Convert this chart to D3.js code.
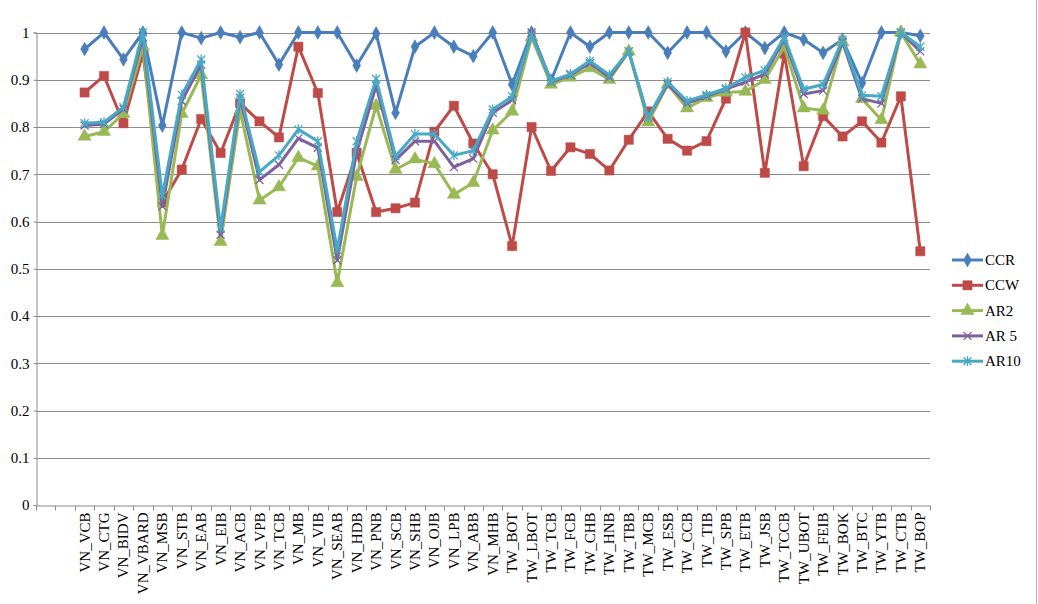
<!DOCTYPE html>
<html>
<head>
<meta charset="utf-8">
<script src="https://cdn.jsdelivr.net/npm/d3@7"></script>
<style>
  body { margin: 0; background: #fff; }
  svg text { font-family: "Liberation Serif", "Times New Roman", Times, "DejaVu Serif", serif; }
</style>
</head>
<body>
<div id="chart"></div>
<script>
// bank codes (two empty slots come before them on the axis)
var categories = ['VN_VCB','VN_CTG','VN_BIDV','VN_VBARD','VN_MSB','VN_STB','VN_EAB','VN_EIB','VN_ACB','VN_VPB',
  'VN_TCB','VN_MB','VN_VIB','VN_SEAB','VN_HDB','VN_PNB','VN_SCB','VN_SHB','VN_OJB','VN_LPB','VN_ABB','VN_MHB',
  'TW_BOT','TW_LBOT','TW_TCB','TW_FCB','TW_CHB','TW_HNB','TW_TBB','TW_MCB','TW_ESB','TW_CCB','TW_TIB','TW_SPB',
  'TW_ETB','TW_JSB','TW_TCCB','TW_UBOT','TW_FEIB','TW_BOK','TW_BTC','TW_YTB','TW_CTB','TW_BOP'];
var blanks = ['', ' '];

var ccr = [0.965,1.0,0.943,1.0,0.803,1.0,0.988,1.0,0.99,1.0,0.932,1.0,1.0,1.0,0.93,0.998,0.83,0.97,1.0,0.97,0.95,1.0,
  0.89,1.0,0.898,1.0,0.97,1.0,1.0,1.0,0.957,1.0,1.0,0.96,1.0,0.967,1.0,0.985,0.957,0.985,0.893,1.0,1.0,0.993];
var ccw = [0.873,0.908,0.808,0.956,0.64,0.71,0.817,0.745,0.85,0.812,0.778,0.97,0.872,0.62,0.745,0.62,0.628,0.64,0.79,0.845,0.765,0.70,
  0.548,0.80,0.707,0.757,0.743,0.708,0.773,0.833,0.775,0.75,0.77,0.86,1.0,0.703,0.955,0.717,0.823,0.78,0.812,0.767,0.865,0.537];
var ar2 = [0.78,0.79,0.828,0.97,0.57,0.828,0.91,0.557,0.835,0.645,0.673,0.735,0.717,0.47,0.695,0.845,0.71,0.732,0.722,0.657,0.682,0.793,
  0.833,0.99,0.89,0.905,0.925,0.90,0.96,0.81,0.89,0.84,0.862,0.873,0.875,0.90,0.97,0.84,0.835,0.98,0.86,0.815,1.0,0.933];
var ar5 = [0.803,0.806,0.838,0.99,0.632,0.855,0.932,0.572,0.862,0.688,0.72,0.776,0.756,0.518,0.747,0.887,0.73,0.77,0.77,0.715,0.733,0.83,
  0.857,1.0,0.895,0.91,0.935,0.905,0.96,0.82,0.89,0.85,0.865,0.88,0.895,0.912,0.985,0.87,0.877,0.98,0.86,0.85,1.0,0.96];
var ar10 = [0.808,0.81,0.842,1.0,0.655,0.868,0.943,0.585,0.87,0.705,0.74,0.795,0.77,0.54,0.77,0.902,0.738,0.785,0.785,0.74,0.75,0.837,
  0.865,0.995,0.897,0.912,0.94,0.91,0.96,0.82,0.895,0.855,0.868,0.882,0.905,0.92,0.99,0.88,0.89,0.985,0.867,0.865,1.0,0.97];

var seriesNames = ['CCR','CCW','AR2','AR 5','AR10'];
var yTicks = [0,0.1,0.2,0.3,0.4,0.5,0.6,0.7,0.8,0.9,1];

var series = [
  {name: seriesNames[0], values: ccr,  color: '#4a7ebb', marker: 'diamond'},
  {name: seriesNames[1], values: ccw,  color: '#be4b48', marker: 'square'},
  {name: seriesNames[2], values: ar2,  color: '#98b954', marker: 'triangle'},
  {name: seriesNames[3], values: ar5,  color: '#7d60a0', marker: 'x'},
  {name: seriesNames[4], values: ar10, color: '#46aac5', marker: 'star'}
];

var serif = '"Liberation Serif", "Times New Roman", Times, "DejaVu Serif", serif';

var W = 1038, H = 604;
var svg = d3.select('#chart').append('svg')
    .attr('width', W)
    .attr('height', H);

var x = d3.scaleBand()
    .domain(blanks.concat(categories))
    .range([36, 930]);
var y = d3.scaleLinear()
    .domain([0, 1])
    .range([505, 32.5]);

// right edge of the chart frame
svg.append('line')
    .attr('x1', 1036.5).attr('x2', 1036.5)
    .attr('y1', 0).attr('y2', H)
    .attr('stroke', '#b0b0b0').attr('stroke-width', 1);

// gridlines
svg.append('g').selectAll('line')
    .data(yTicks.slice(1))
    .enter().append('line')
      .attr('x1', 36).attr('x2', 930)
      .attr('y1', function(d) { return Math.round(y(d)) + 0.5; })
      .attr('y2', function(d) { return Math.round(y(d)) + 0.5; })
      .attr('stroke', '#8c8c8c')
      .attr('stroke-width', 1);

// y axis
var yAxis = d3.axisLeft(y)
    .tickValues(yTicks)
    .tickSize(3)
    .tickPadding(4)
    .tickFormat(d3.format('~g'));
var gy = svg.append('g')
    .attr('transform', 'translate(36.5,0)')
    .call(yAxis)
    .attr('font-family', null);
gy.selectAll('line').attr('stroke', '#8c8c8c');
gy.select('.domain').attr('stroke', '#8c8c8c');
gy.selectAll('text')
    .style('font-family', serif)
    .style('font-size', '15px')
    .attr('fill', '#000');

// x axis: labels centred on bands, ticks on band edges
var xAxis = d3.axisBottom(x).tickSize(0).tickPadding(0);
var gx = svg.append('g')
    .attr('transform', 'translate(0,505.5)')
    .call(xAxis)
    .attr('font-family', null);
gx.select('.domain').attr('stroke', '#8c8c8c');
gx.selectAll('.tick text')
    .style('font-family', serif)
    .style('font-size', '15px')
    .attr('fill', '#000')
    .attr('text-anchor', 'end')
    .attr('dy', null)
    .attr('transform', 'translate(5,7) rotate(-90)');

var edges = x.domain().map(function(d) { return x(d); }).concat([x.range()[1]]);
gx.selectAll('.edge')
    .data(edges)
    .enter().append('line')
      .attr('class', 'edge')
      .attr('x1', function(d) { return Math.round(d) + 0.5; })
      .attr('x2', function(d) { return Math.round(d) + 0.5; })
      .attr('y1', 0).attr('y2', 5)
      .attr('stroke', '#8c8c8c');

function cx(i) { return x(categories[i]) + x.bandwidth() / 2; }

function markerPath(type) {
    if (type == 'diamond') return d3.symbol().type(d3.symbolDiamond).size(55)();
    if (type == 'square') return d3.symbol().type(d3.symbolSquare).size(85)();
    if (type == 'triangle') return d3.symbol().type(d3.symbolTriangle).size(75)();
    if (type == 'x') return 'M-4,-4L4,4M-4,4L4,-4';
    return 'M-4,-4L4,4M-4,4L4,-4M0,-5L0,5';
}

function drawMarker(sel, s) {
    var filled = (s.marker != 'x' && s.marker != 'star');
    sel.attr('d', markerPath(s.marker))
        .attr('fill', filled ? s.color : 'none')
        .attr('stroke', s.color)
        .attr('stroke-width', filled ? 0.5 : 1.3);
}

var line = d3.line()
    .x(function(d, i) { return cx(i); })
    .y(function(d) { return y(d); });

series.forEach(function(s) {
    var g = svg.append('g');
    g.append('path')
        .datum(s.values)
        .attr('d', line)
        .attr('fill', 'none')
        .attr('stroke', s.color)
        .attr('stroke-width', 3)
        .attr('stroke-linejoin', 'round');
    g.selectAll('.mk')
        .data(s.values)
        .enter().append('path')
          .attr('class', 'mk')
          .attr('transform', function(d, i) { return 'translate(' + cx(i) + ',' + y(d) + ')'; })
          .each(function() { drawMarker(d3.select(this), s); });
});

// legend
var legend = svg.append('g');
series.forEach(function(s, i) {
    var ly = 260 + i * 25.3;
    legend.append('line')
        .attr('x1', 952).attr('x2', 983)
        .attr('y1', ly).attr('y2', ly)
        .attr('stroke', s.color).attr('stroke-width', 3);
    legend.append('path')
        .attr('transform', 'translate(967.5,' + ly + ')')
        .call(drawMarker, s);
    legend.append('text')
        .attr('x', 985).attr('y', ly + 5)
        .style('font-family', serif)
        .style('font-size', '15px')
        .attr('fill', '#000')
        .text(s.name);
});
</script>
</body>
</html>
